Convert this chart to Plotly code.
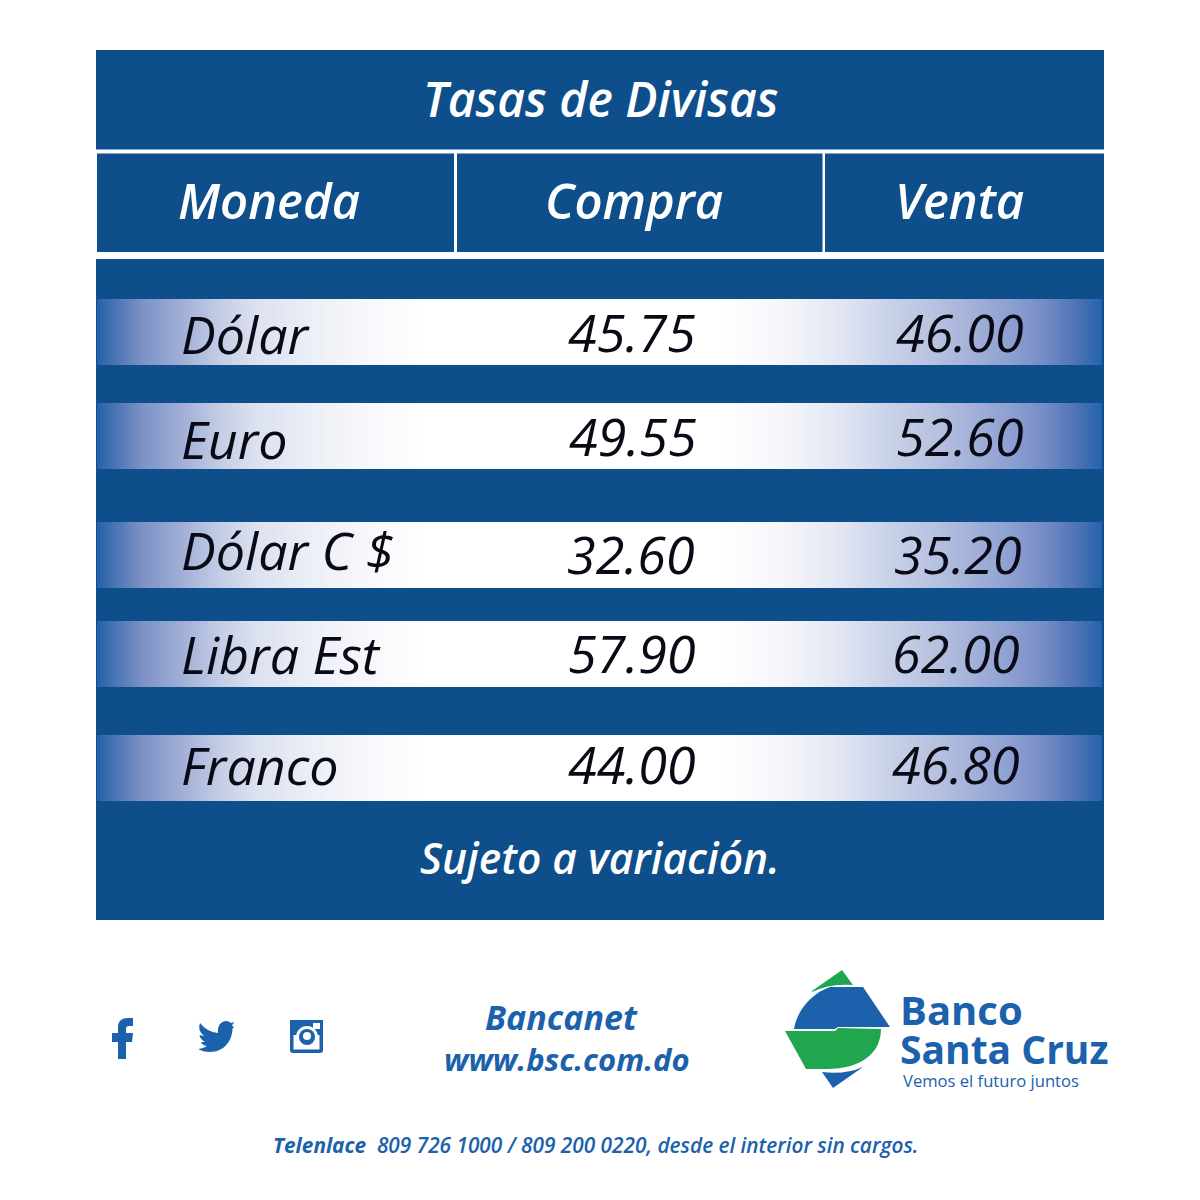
import plotly.graph_objects as go

# ---- data ----
title = "Tasas de Divisas"
headers = ["Moneda", "Compra", "Venta"]
monedas = ["Dólar", "Euro", "Dólar C $", "Libra Est", "Franco"]
compra = ["45.75", "49.55", "32.60", "57.90", "44.00"]
venta = ["46.00", "52.60", "35.20", "62.00", "46.80"]
nota = "Sujeto a variación."

# ---- layout ----
NAVY = "#0e4f8b"
BLUE = "#1b61ab"
GREEN = "#1fa64f"
INK = "#0a0a16"
FONT = "Open Sans"
row_tops = [299, 403, 522, 621, 735]
row_h = 66
text_y_moneda = [333, 438, 549, 653, 764]
text_y_compra = [331, 435, 553, 652, 763]
text_y_venta = [331, 435, 553, 652, 763]
x_moneda_left = [179, 179, 179, 179, 179]
x_compra = [632, 633, 631, 632, 632]
x_venta = [960, 960, 958, 956, 956]
header_x = [269, 634, 959]
gradient = [
    [0.000, "#2462ab"], [0.010, "#3a6cb0"], [0.043, "#7a8fc5"], [0.093, "#a9b6da"],
    [0.125, "#c6cfe6"], [0.160, "#dde2f0"], [0.225, "#eff1f8"], [0.290, "#fbfbfd"],
    [0.330, "#ffffff"], [0.620, "#ffffff"], [0.683, "#f5f6fb"], [0.732, "#e6e9f4"],
    [0.782, "#ccd4ea"], [0.832, "#b8c3e0"], [0.915, "#8a9dd0"], [0.948, "#6f88c4"],
    [0.981, "#4570b4"], [1.000, "#2462ab"],
]
GRAD_X0, GRAD_X1, GRAD_STEP = 97, 1102, 3

fig = go.Figure()

shapes = []
def rect(x0, y0, x1, y1, color):
    shapes.append(dict(type="rect", x0=x0, y0=y0, x1=x1, y1=y1, fillcolor=color,
                       line_width=0, layer="below"))
def path(d, color, layer="above"):
    shapes.append(dict(type="path", path=d, fillcolor=color, line_width=0, layer=layer))

rect(96, 50, 1104, 149.5, NAVY)
rect(97, 153.5, 454, 252, NAVY)
rect(457, 153.5, 822.5, 252, NAVY)
rect(825, 153.5, 1104, 252, NAVY)
rect(96, 259, 1104, 920, NAVY)

edges = list(range(GRAD_X0, GRAD_X1 + 1, GRAD_STEP))
ramp = [(a + GRAD_STEP / 2 - GRAD_X0) / (GRAD_X1 - GRAD_X0) for a in edges[:-1]]
for top in row_tops:
    fig.add_trace(go.Heatmap(
        x=edges, y=[top, top + row_h], z=[ramp],
        zmin=0, zmax=1, colorscale=gradient,
        showscale=False, hoverinfo="skip"))

# social icons
path("M118 1059 V1042 H112 V1033 H118 V1027 C118 1021 122 1018 128 1018 H133 V1026 H129 "
     "C127 1026 126 1027 126 1029 V1033 H133 L132 1042 H126 V1059 Z", BLUE)
path("M200 1023 Q207 1032 218 1033 C217 1025 222 1021 226 1021 Q229 1021 231 1023 L234.3 1022 "
     "L231.7 1026 L234 1026.5 L232.5 1029 C232 1041 224 1052 210 1052 Q203 1052 198.3 1049 "
     "Q203 1049 207 1046 Q202 1045 201 1042 L205 1042 Q200 1039 199.5 1035 L204 1036 "
     "Q197 1030 200 1023 Z", BLUE)
path("M293 1020 H320 Q323 1020 323 1023 V1050 Q323 1053 320 1053 H293 Q290 1053 290 1050 V1023 "
     "Q290 1020 293 1020 Z", BLUE)
shapes.append(dict(type="rect", x0=293.5, y0=1035, x1=319.5, y1=1049.5, fillcolor="white", line_width=0))
shapes.append(dict(type="rect", x0=290, y0=1020, x1=323, y1=1035, fillcolor=BLUE, line_width=0))
shapes.append(dict(type="circle", x0=296, y0=1026, x1=318, y1=1048, fillcolor="white", line_width=0))
shapes.append(dict(type="circle", x0=299, y0=1029, x1=315, y1=1045, fillcolor=BLUE, line_width=0))
shapes.append(dict(type="circle", x0=303, y0=1032, x1=311, y1=1040, fillcolor="white", line_width=0))
shapes.append(dict(type="rect", x0=313, y0=1023, x1=320, y1=1029, fillcolor="white", line_width=0))

# logo
path("M812 991 L842 970 L853 985 Q830 983 812 992 Z", GREEN)
path("M863 987 L890 1027 L838 1027 L835 1029 L794 1029 C797 1010 812 993 830 987 Z", BLUE)
path("M785 1031 L835 1031 L838 1028 L881 1029 C881 1053 861 1069 827 1069 L806 1069 Z", GREEN)
path("M822 1072 L833 1088 L863 1067 Q845 1075 822 1072 Z", BLUE)

ann = []
def label(text, x, y, size, color="white", weight=600, italic=True, anchor="center", family=FONT):
    ann.append(dict(text=text, x=x, y=y, xref="x", yref="y", xanchor=anchor, yanchor="middle",
                    showarrow=False,
                    font=dict(family=family, size=size, color=color, weight=weight,
                              style="italic" if italic else "normal")))

label(title, 600, 98, 48)
for name, x in zip(headers, header_x):
    label(name, x, 200, 49)
for i, name in enumerate(monedas):
    label(name, x_moneda_left[i], text_y_moneda[i], 52, INK, 400, anchor="left")
    label(compra[i], x_compra[i], text_y_compra[i], 52, INK, 400)
    label(venta[i], x_venta[i], text_y_venta[i], 52, INK, 400)
label(nota, 600, 857, 42.5)
label("Bancanet", 561, 1017, 34, BLUE, 700)
label("www.bsc.com.do", 567, 1059, 31, BLUE, 700)
label("<b>Telenlace</b>  809 726 1000 / 809 200 0220, desde el interior sin cargos.", 595, 1145, 20.8, BLUE, 600)
label("Banco", 898, 1009, 40, BLUE, 700, False, "left")
label("Santa Cruz", 898, 1048, 39, BLUE, 700, False, "left")
label("Vemos el futuro juntos", 901, 1080, 16.6, BLUE, 400, False, "left")

fig.update_layout(
    width=1200, height=1200, margin=dict(l=0, r=0, t=0, b=0),
    paper_bgcolor="white", plot_bgcolor="white", shapes=shapes, annotations=ann,
    showlegend=False,
    xaxis=dict(range=[0, 1200], visible=False, fixedrange=True),
    yaxis=dict(range=[1200, 0], visible=False, fixedrange=True),
)
fig.write_html("out.html", post_script="document.body.style.margin='0';",
               config={"displayModeBar": False})
